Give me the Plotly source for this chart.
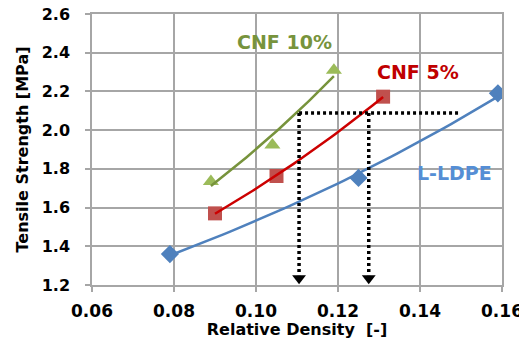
import numpy as np
import plotly.graph_objects as go

# Data
ldpe_x = [0.079, 0.125, 0.159]
ldpe_y = [1.36, 1.753, 2.19]
cnf5_x = [0.090, 0.105, 0.131]
cnf5_y = [1.57, 1.763, 2.173]
cnf10_x = [0.089, 0.104, 0.119]
cnf10_y = [1.735, 1.923, 2.31]

guide_level = 2.088
guide_x_start = 0.1105
guide_x_end = 0.1495
guide_drop_x = [0.1105, 0.1275]
guide_bottom = 1.25
arrow_y = 1.235

x_ticks = [0.06, 0.08, 0.10, 0.12, 0.14, 0.16]
y_ticks = [1.2, 1.4, 1.6, 1.8, 2.0, 2.2, 2.4, 2.6]

FONT = "DejaVu Sans"

def exp_fit(xs, ys, n=50):
    b, lna = np.polyfit(xs, np.log(ys), 1)
    xx = np.linspace(min(xs), max(xs), n)
    return xx, np.exp(lna + b * xx)

fig = go.Figure()

series = [
    (ldpe_x, ldpe_y, "diamond", 14, "#4F81BD", "#4F81BD"),
    (cnf5_x, cnf5_y, "square", 14, "#C0504D", "#CC0000"),
    (cnf10_x, cnf10_y, "triangle-up", 14, "#9BBB59", "#77933C"),
]
for xs, ys, sym, sz, mcol, lcol in series:
    fig.add_trace(go.Scatter(x=xs, y=ys, mode="markers",
                             marker=dict(symbol=sym, size=sz, color=mcol, line=dict(width=0)),
                             showlegend=False, hoverinfo="skip"))
for xs, ys, sym, sz, mcol, lcol in series:
    fx, fy = exp_fit(xs, ys)
    fig.add_trace(go.Scatter(x=fx, y=fy, mode="lines", line=dict(color=lcol, width=2.5),
                             showlegend=False, hoverinfo="skip"))

# dotted guides
fig.add_trace(go.Scatter(x=[guide_x_start, guide_x_end], y=[guide_level, guide_level],
                         mode="lines", line=dict(color="black", width=3.5, dash="3px,3px"),
                         showlegend=False, hoverinfo="skip"))
for gx in guide_drop_x:
    fig.add_trace(go.Scatter(x=[gx, gx], y=[guide_level, guide_bottom],
                             mode="lines", line=dict(color="black", width=3.5, dash="3px,3px"),
                             showlegend=False, hoverinfo="skip"))
fig.add_trace(go.Scatter(x=guide_drop_x, y=[arrow_y] * len(guide_drop_x), mode="markers",
                         marker=dict(symbol="triangle-down", size=12, color="black"),
                         showlegend=False, hoverinfo="skip"))

labels = [
    ("CNF 10%", 0.107, 2.455, "#77933C"),
    ("CNF 5%", 0.1395, 2.30, "#C00000"),
    ("L-LDPE", 0.1485, 1.78, "#558ED5"),
]
for t, x, y, c in labels:
    fig.add_annotation(x=x, y=y, text="<b>%s</b>" % t, showarrow=False,
                       font=dict(family=FONT, size=19, color=c))

axis_common = dict(showgrid=True, gridcolor="#A6A6A6", gridwidth=1.5,
                   showline=True, linecolor="#A6A6A6", linewidth=1.5,
                   ticks="outside", tickcolor="#A6A6A6", ticklen=5, tickwidth=1.5,
                   zeroline=False, ticklabeloverflow="allow", automargin=False)

fig.update_xaxes(range=[0.06, 0.16], tickvals=x_ticks,
                 ticktext=["<b>%.2f</b>" % v for v in x_ticks],
                 tickfont=dict(family=FONT, size=17, color="black"), ticklabelstandoff=5,
                 title=dict(text="<b>Relative Density \u00a0[-]</b>", font=dict(family=FONT, size=16, color="black"), standoff=4),
                 mirror=True, **axis_common)
fig.update_yaxes(range=[1.2, 2.6], tickvals=y_ticks,
                 ticktext=["<b>%.1f</b>" % v for v in y_ticks],
                 tickfont=dict(family=FONT, size=16, color="black"), ticklabelstandoff=12,
                 title=dict(text="<b>Tensile Strength [MPa]</b>", font=dict(family=FONT, size=16, color="black"), standoff=9),
                 mirror=True, **axis_common)

fig.update_layout(width=519, height=339, margin=dict(l=92, r=17, t=14, b=54),
                  plot_bgcolor="white", paper_bgcolor="white")

fig.write_html("out.html")
